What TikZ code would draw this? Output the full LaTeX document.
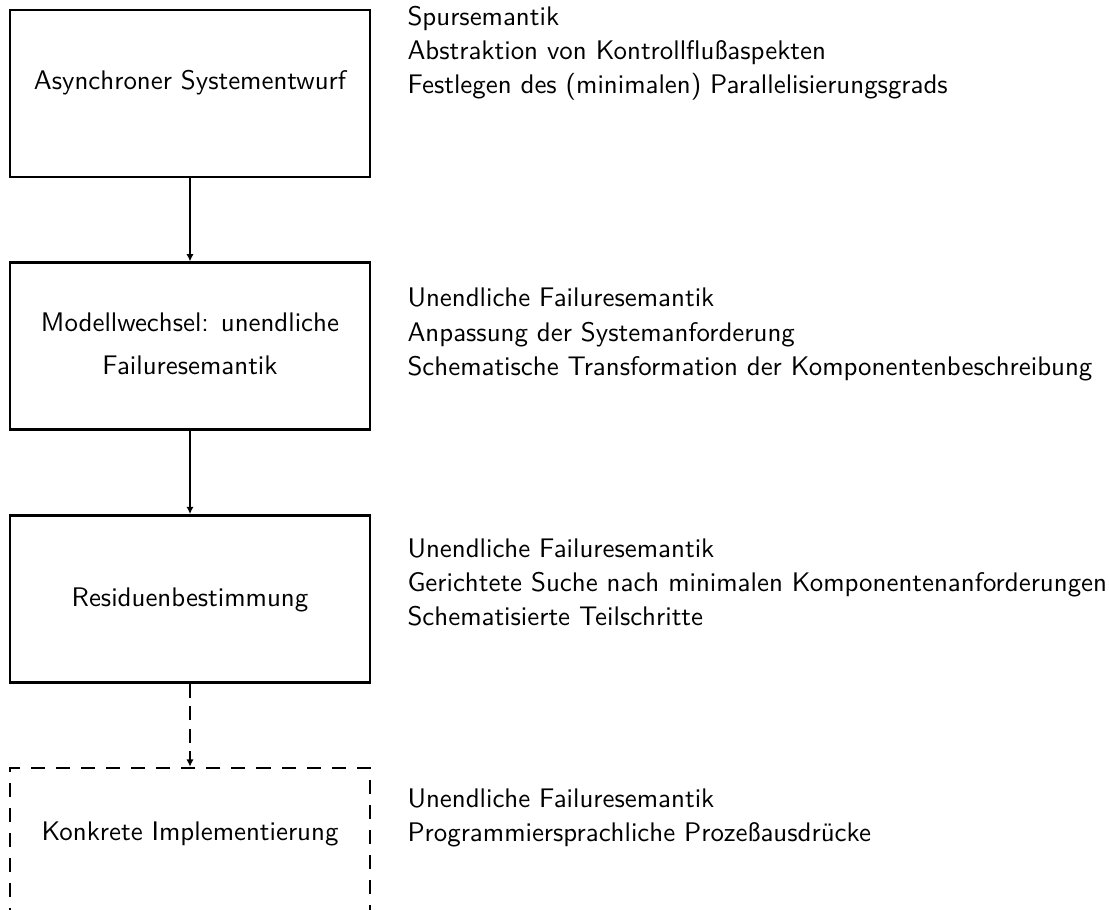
\documentclass[tikz,border=0pt]{standalone}
\usetikzlibrary{arrows.meta}
\begin{document}
\begin{tikzpicture}[x=0.3831pt,y=-0.3831pt,
  stepbox/.style={draw, line width=1pt, minimum width={360*0.3831pt}, minimum height={167*0.3831pt}, inner sep=0pt},
  dashbox/.style={stepbox, dash pattern=on 5.4pt off 4.2pt},
  boxtext/.style={inner sep=0pt, align=center, font=\sffamily\fontsize{10.3}{16.5}\selectfont},
  conn/.style={line width=0.8pt, -{Latex[length=2.8pt,width=2.8pt]}},
  dconn/.style={conn, dash pattern=on 5.4pt off 3.2pt},
  note/.style={anchor=base west, inner sep=0pt, font=\sffamily\fontsize{10.3}{12}\selectfont}]
\useasboundingbox (0,0) rectangle (1109,909);
\node[stepbox] (b1) at (190,93.5) {};
\node[stepbox] (b2) at (190,346.2) {};
\node[stepbox] (b3) at (190,598.9) {};
\node[dashbox] (b4) at (190,851.5) {};
\node[boxtext] (t1) at (190,83) {Asynchroner Systementwurf};
\node[boxtext] (t2) at (190,343.5) {Modellwechsel: unendliche\\Failuresemantik};
\node[boxtext] (t3) at (190,600) {Residuenbestimmung};
\node[boxtext] (t4) at (190,834) {Konkrete Implementierung};
\draw[conn] (b1) -- (b2);
\draw[conn] (b2) -- (b3);
\draw[dconn] (b3) -- (b4);
\node[note] (r1a) at (407,25) {Spursemantik};
\node[note] (r1b) at (407,59) {Abstraktion von Kontrollflußaspekten};
\node[note] (r1c) at (407,93) {Festlegen des (minimalen) Parallelisierungsgrads};
\node[note] (r2a) at (407,306) {Unendliche Failuresemantik};
\node[note] (r2b) at (407,341) {Anpassung der Systemanforderung};
\node[note] (r2c) at (407,375) {Schematische Transformation der Komponentenbeschreibung};
\node[note] (r3a) at (407,557) {Unendliche Failuresemantik};
\node[note] (r3b) at (407,591) {Gerichtete Suche nach minimalen Komponentenanforderungen};
\node[note] (r3c) at (407,625) {Schematisierte Teilschritte};
\node[note] (r4a) at (407,807) {Unendliche Failuresemantik};
\node[note] (r4b) at (407,841) {Programmiersprachliche Prozeßausdrücke};
\end{tikzpicture}
\end{document}
